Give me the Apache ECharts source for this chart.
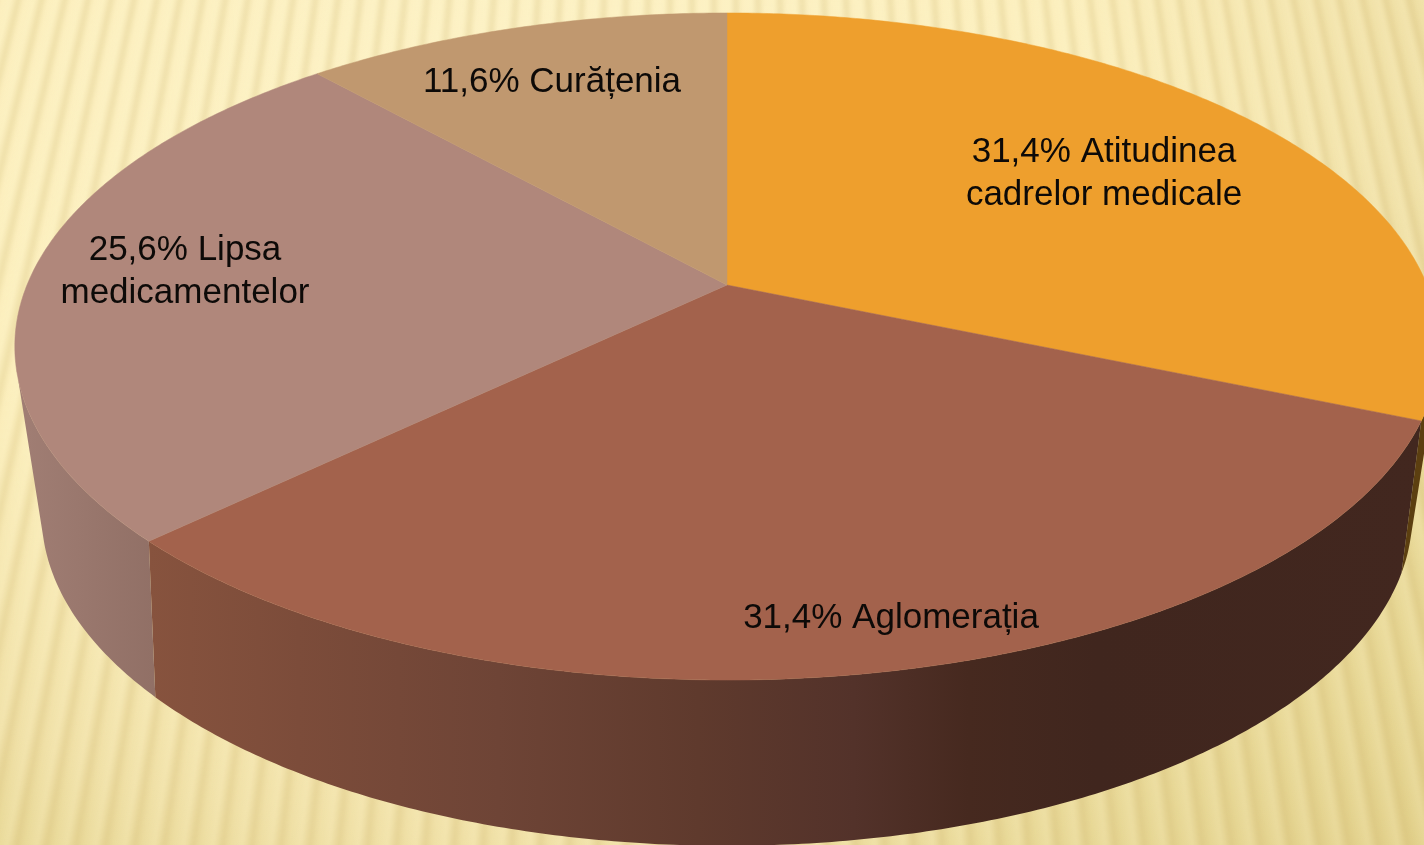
<!DOCTYPE html>
<html lang="ro" style="height: 100%">

<head>
  <meta charset="utf-8">
  <style>
    html,
    body {
      margin: 0;
      padding: 0;
      width: 100%;
      height: 100%;
      overflow: hidden;
    }

    body {
      position: relative;
      background: radial-gradient(ellipse farthest-corner at 35% 15%, #fdf2c6 0%, #fcefbd 45%, #f0e0a6 70%, #e9d998 80%, #e2d08a 100%);
    }

    #stripes {
      position: absolute;
      left: -10px;
      top: -10px;
      width: 1444px;
      height: 865px;
      filter: blur(1.5px);
      background: repeating-conic-gradient(from 0deg at 730px -2790px,
          rgba(205, 180, 110, 0) 0deg,
          rgba(205, 180, 110, .26) .12deg,
          rgba(255, 246, 205, .22) .26deg,
          rgba(205, 180, 110, 0) .45deg);
    }
  </style>
</head>

<body>
  <div id="stripes"></div>
  <div id="container" style="position: absolute; left: 0; top: 0; height: 100%; width: 100%;"></div>

  <script type="text/javascript" src="https://cdn.jsdelivr.net/npm/echarts@6/dist/echarts.min.js"></script>
  <script type="text/javascript">

    // valori
    const categories = ["Atitudinea\ncadrelor medicale", "Aglomerația", "Lipsa\nmedicamentelor", "Curățenia"];
    const values = [31.4, 31.4, 25.6, 11.6];
    const topColors = ["#ee9f2d", "#a3624c", "#b0877b", "#c0986f"];
    const wallColors = [
      [[0, "#5c3f10"], [1, "#5c3f10"]],
      [[0.105, "#87533e"], [0.21, "#7c4c3a"], [0.35, "#6e4436"], [0.49, "#5f3a2d"], [0.6, "#53322a"], [0.68, "#46291f"], [0.77, "#40261e"], [1, "#42271f"]],
      [[0, "#a38076"], [0.12, "#8f6e64"], [1, "#8f6e64"]],
      [[0, "#c0986f"], [1, "#c0986f"]]
    ];
    const labelSpots = [[1104, 174], [891, 618], [185, 272], [552, 82]];

    // proiectia celor doua discuri (perspectiva), masurata pe imagine
    // from/to: unghiurile unde peretele lateral atinge silueta
    const topDisc = { x: 727, y: 285, rx: 700, ry: 322.2, tilt: 0.1844, from: 103.7, to: 256.3 };
    const lowDisc = { x: 727, y: 438, rx: 667, ry: 314, tilt: 0.23, from: 107.6, to: 252.4 };

    const total = values.reduce((a, b) => a + b, 0);
    const starts = values.map((v, i) => values.slice(0, i).reduce((a, b) => a + b, 0) / total * 360);

    function rimPoint(disc, deg) {
      const t = deg * Math.PI / 180;
      const u = Math.sin(t);
      const v = Math.cos(t);
      const w = 1 + disc.tilt * v;
      return [disc.x + disc.rx * u / w, disc.y - disc.ry * v / w];
    }

    function rimArc(disc, from, to) {
      const pts = [];
      for (let a = from; a < to; a += 0.5) {
        pts.push(rimPoint(disc, a));
      }
      pts.push(rimPoint(disc, to));
      return pts;
    }

    // bucata de arc vizibila pe peretele din fata
    function wallArc(disc, range) {
      const from = Math.max(range[0], disc.from);
      const to = Math.min(range[1], disc.to);
      return from < to ? rimArc(disc, from, to) : [];
    }

    function sliceRange(api) {
      const i = api.value(0);
      return [starts[i], starts[i] + api.value(1) / total * 360];
    }

    const seriesData = values.map((v, i) => [i, v]);

    var dom = document.getElementById('container');
    var myChart = echarts.init(dom, null, { renderer: 'canvas' });

    var option = {
      animation: false,
      backgroundColor: 'transparent',
      series: [
        {
          type: 'custom',
          coordinateSystem: 'none',
          silent: true,
          z: 1,
          data: seriesData,
          renderItem: (params, api) => {
            const range = sliceRange(api);
            const upper = wallArc(topDisc, range);
            const lower = wallArc(lowDisc, range);
            if (!upper.length || !lower.length) {
              return { type: 'group', children: [] };
            }
            const fill = new echarts.graphic.LinearGradient(0, 0, 1424, 0,
              wallColors[api.value(0)].map(s => ({ offset: s[0], color: s[1] })), true);
            return {
              type: 'polygon',
              shape: { points: upper.concat(lower.reverse()) },
              style: { fill: fill }
            };
          }
        },
        {
          type: 'custom',
          coordinateSystem: 'none',
          silent: true,
          z: 2,
          data: seriesData,
          renderItem: (params, api) => {
            const i = api.value(0);
            const range = sliceRange(api);
            const pct = api.value(1).toFixed(1).replace('.', ',');
            return {
              type: 'group',
              children: [
                {
                  type: 'polygon',
                  shape: { points: [[topDisc.x, topDisc.y]].concat(rimArc(topDisc, range[0], range[1])) },
                  style: { fill: topColors[i], stroke: topColors[i], lineWidth: 0.5 }
                },
                {
                  type: 'text',
                  z2: 10,
                  x: labelSpots[i][0],
                  y: labelSpots[i][1],
                  style: {
                    text: pct + '% ' + categories[i],
                    fill: '#0d0a08',
                    font: '35px "Liberation Sans", sans-serif',
                    lineHeight: 43,
                    align: 'center',
                    verticalAlign: 'middle'
                  }
                }
              ]
            };
          }
        }
      ]
    };

    myChart.setOption(option);
    window.addEventListener('resize', myChart.resize);

  </script>
</body>

</html>
